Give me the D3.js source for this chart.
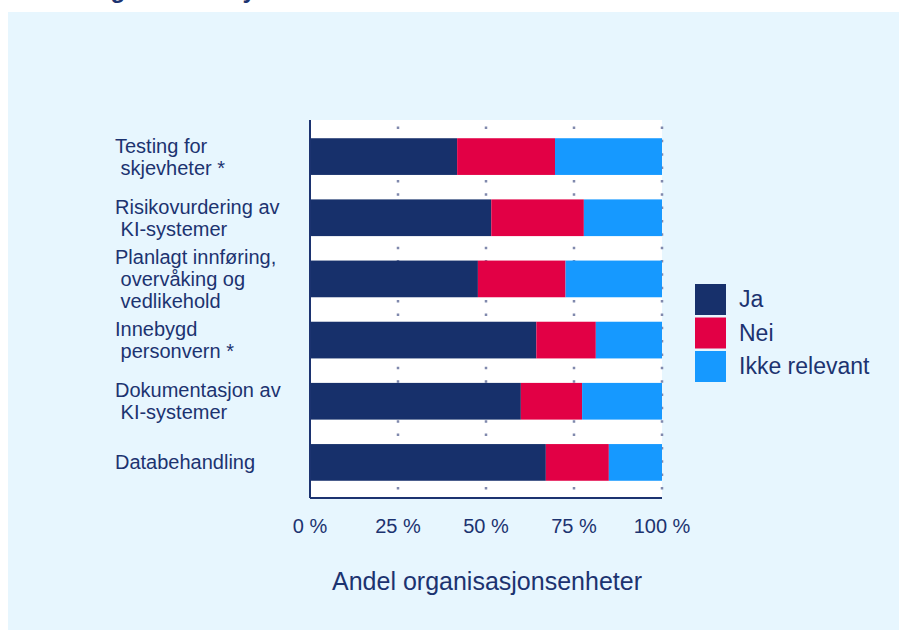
<!DOCTYPE html>
<html>
<head>
<meta charset="utf-8">
<script src="https://cdn.jsdelivr.net/npm/d3@7"></script>
<style>
  body { margin: 0; background: #fff; }
  text { font-family: "Liberation Sans", Arial, sans-serif; fill: #1c3370; }
</style>
</head>
<body>
<div id="chart"></div>
<script>
// categories, top to bottom (each entry = wrapped label lines)
let categories = [
  ["Testing for", " skjevheter *"],
  ["Risikovurdering av", " KI-systemer"],
  ["Planlagt innføring,", " overvåking og", " vedlikehold"],
  ["Innebygd", " personvern *"],
  ["Dokumentasjon av", " KI-systemer"],
  ["Databehandling"]
];
let series = ["Ja", "Nei", "Ikke relevant"];
let ja = [41.8, 51.5, 47.7, 64.3, 59.9, 67.0];
let nei = [27.8, 26.3, 24.9, 16.9, 17.4, 17.9];
let ikke = [30.4, 22.2, 27.4, 18.8, 22.7, 15.1];
let ticks = [0, 25, 50, 75, 100];
let colors = ["#17306b", "#e20045", "#1699ff"];

let width = 901;
let height = 630;
let plot = { left: 310, right: 662, top: 120, bottom: 498 };

let rows = categories.map(function (c, i) {
  return { key: i, Ja: ja[i], Nei: nei[i], "Ikke relevant": ikke[i] };
});

let svg = d3.select("#chart").append("svg")
  .attr("width", width).attr("height", height);

// panel
svg.append("rect").attr("x", 8).attr("y", 12)
  .attr("width", 891).attr("height", 618).attr("fill", "#e7f6fe");

// title (cut off at the top of the frame, as in the source)
svg.append("text").attr("x", 27).attr("y", -2)
  .attr("font-size", 24).attr("font-weight", "bold")
  .text("Tiltak og rutiner knyttet til KI");

let xScale = d3.scaleLinear().domain([0, 100]).range([plot.left, plot.right]);
let yScale = d3.scaleBand().domain(d3.range(categories.length))
  .range([126, 493]).paddingInner(0.4).paddingOuter(0.2);

svg.append("rect").attr("x", plot.left).attr("y", plot.top)
  .attr("width", plot.right - plot.left).attr("height", plot.bottom - plot.top)
  .attr("fill", "#fff");

// dotted gridlines
svg.append("g").selectAll("line").data(ticks.slice(1)).join("line")
  .attr("x1", xScale).attr("x2", xScale)
  .attr("y1", plot.top).attr("y2", plot.bottom)
  .attr("stroke", "#8089ad").attr("stroke-width", 2.5)
  .attr("stroke-dasharray", "2.5 10.85").attr("stroke-dashoffset", -6.5);

let stack = d3.stack().keys(series);
let layers = stack(rows);

svg.append("g").selectAll("g").data(layers).join("g")
  .attr("fill", function (d, i) { return colors[i]; })
  .selectAll("rect").data(function (d) { return d; }).join("rect")
  .attr("x", function (d) { return xScale(d[0]); })
  .attr("width", function (d) { return xScale(d[1]) - xScale(d[0]); })
  .attr("y", function (d) { return yScale(d.data.key); })
  .attr("height", yScale.bandwidth());

// axes lines
svg.append("line").attr("x1", plot.left).attr("x2", plot.left)
  .attr("y1", plot.top).attr("y2", plot.bottom)
  .attr("stroke", "#1c3370").attr("stroke-width", 2);
svg.append("line").attr("x1", plot.left).attr("x2", plot.right)
  .attr("y1", plot.bottom).attr("y2", plot.bottom)
  .attr("stroke", "#1c3370").attr("stroke-width", 2);

// x tick labels
svg.append("g").selectAll("text").data(ticks).join("text")
  .attr("x", xScale).attr("y", 533)
  .attr("text-anchor", "middle").attr("font-size", 20)
  .text(function (d) { return d + " %"; });

svg.append("text").attr("x", 487).attr("y", 590)
  .attr("text-anchor", "middle").attr("font-size", 25)
  .text("Andel organisasjonsenheter");

// category labels
let lineH = 22;
svg.append("g").selectAll("text").data(categories).join("text")
  .attr("font-size", 20).attr("xml:space", "preserve")
  .style("white-space", "pre")
  .each(function (lines, i) {
    let c = yScale(i) + yScale.bandwidth() / 2;
    d3.select(this).selectAll("tspan").data(lines).join("tspan")
      .attr("x", 115)
      .attr("y", function (d, j) { return c + (j - (lines.length - 1) / 2) * lineH + 7; })
      .text(function (d) { return d; });
  });

// legend
let legend = svg.append("g").selectAll("g").data(series).join("g")
  .attr("transform", function (d, i) { return "translate(695," + (284 + i * 33.5) + ")"; });
legend.append("rect").attr("width", 31).attr("height", 31)
  .attr("fill", function (d, i) { return colors[i]; });
legend.append("text").attr("x", 44).attr("y", 23)
  .attr("font-size", 23).text(function (d) { return d; });
</script>
</body>
</html>
